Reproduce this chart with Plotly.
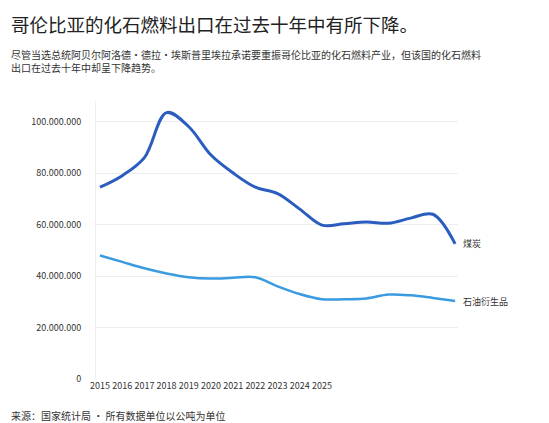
import plotly.graph_objects as go

idx = list(range(17))
tick_labels = [str(y) for y in range(2015, 2026)]
coal = [74.5, 79, 86, 103.5, 98, 87, 80, 74.5, 72, 66, 59.8, 60.3, 61, 60.5, 62.5, 64, 52.5]
oil = [48, 45.5, 43, 41, 39.5, 39, 39.3, 39.5, 36, 33, 31, 31, 31.3, 32.8, 32.5, 31.5, 30.3]
coal_v = [v * 1e6 for v in coal]
oil_v = [v * 1e6 for v in oil]

F = "Noto Sans CJK SC"
fig = go.Figure()
fig.add_trace(go.Scatter(x=idx, y=coal_v, mode="lines", line=dict(color="#2a5dbf", width=3, shape="spline"), cliponaxis=False))
fig.add_trace(go.Scatter(x=idx, y=oil_v, mode="lines", line=dict(color="#3b9be0", width=2.5, shape="spline"), cliponaxis=False))
fig.add_annotation(x=idx[-1], y=coal_v[-1], text="煤炭", showarrow=False, xanchor="left", xshift=6, font=dict(size=9, color="#333"))
fig.add_annotation(x=idx[-1], y=oil_v[-1], text="石油衍生品", showarrow=False, xanchor="left", xshift=6, font=dict(size=9, color="#333"))

fig.update_layout(
    width=549, height=423, margin=dict(l=88, r=99, t=93, b=52),
    plot_bgcolor="white", paper_bgcolor="white", showlegend=False,
    separators=",.", font=dict(family=F, size=9, color="#333"),
    xaxis=dict(range=[-0.18, 16.13], tickvals=idx[:11], ticktext=tick_labels, showgrid=False,
               zeroline=False, showline=False, ticks="", tickfont=dict(size=9)),
    yaxis=dict(range=[0, 108e6], tickvals=[0, 20e6, 40e6, 60e6, 80e6, 100e6], tickformat=",d",
               showgrid=True, gridcolor="#eeeeee", zeroline=False, showline=True, linecolor="#eeeeee",
               ticks="", ticklabelstandoff=12, tickfont=dict(size=9)),
)
fig.add_annotation(xref="paper", yref="paper", x=-0.24, y=1.0, yshift=92, xanchor="left", yanchor="top",
                   text="哥伦比亚的化石燃料出口在过去十年中有所下降。", showarrow=False, font=dict(size=18.5, color="#222"))
fig.add_annotation(xref="paper", yref="paper", x=-0.24, y=1.0, yshift=56, xanchor="left", yanchor="top", align="left",
                   text="尽管当选总统阿贝尔阿洛德·德拉·埃斯普里埃拉承诺要重振哥伦比亚的化石燃料产业，但该国的化石燃料<br>出口在过去十年中却呈下降趋势。",
                   showarrow=False, font=dict(size=10, color="#333"))
fig.add_annotation(xref="paper", yref="paper", x=-0.24, y=0, yshift=-27, xanchor="left", yanchor="top",
                   text="来源：国家统计局 · 所有数据单位以公吨为单位", showarrow=False, font=dict(size=10, color="#333"))
fig.write_html("out.html")
